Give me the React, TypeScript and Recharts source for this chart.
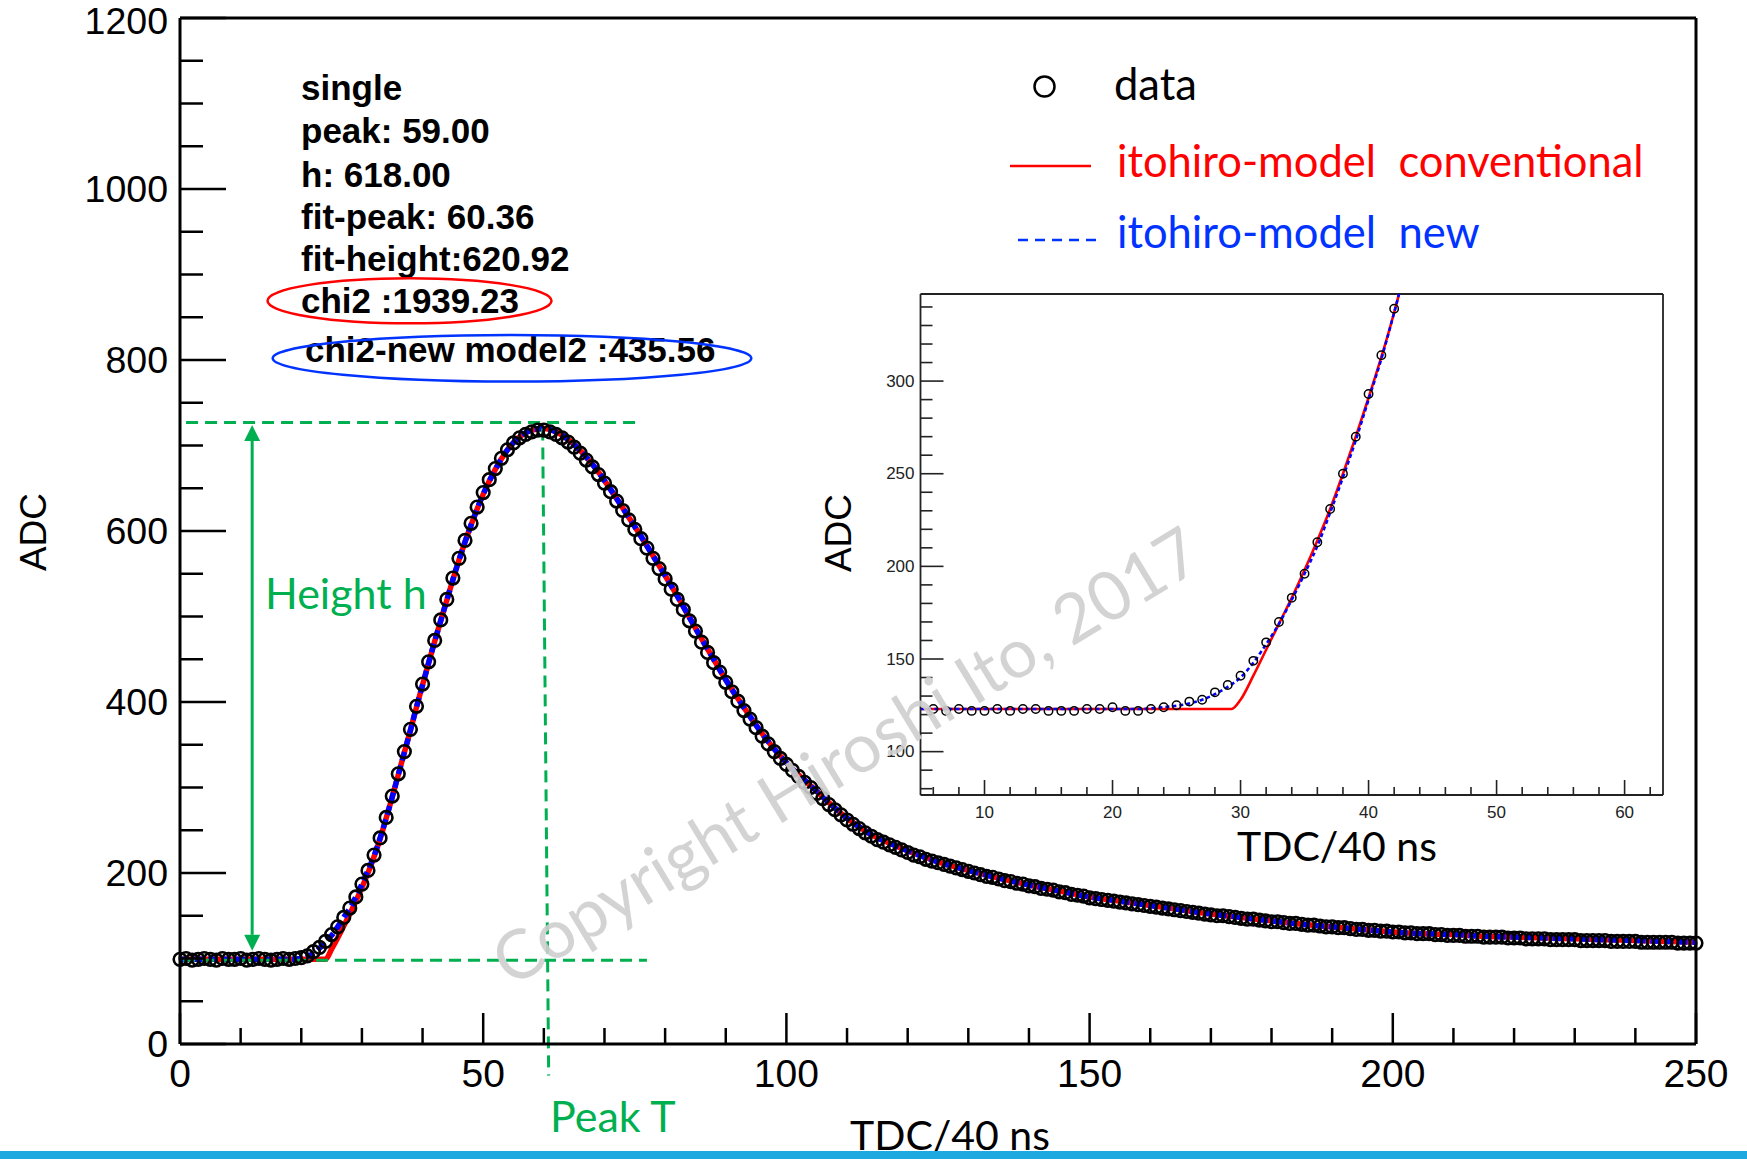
import React from 'react';
import { ComposedChart, Line, XAxis, YAxis, ReferenceLine } from 'recharts';

// ---------------- main plot data ----------------
const tdcBins: number[] = Array.from({ length: 251 }, (_, i) => i);
const adcData: number[] = [
  99, 100, 98, 99, 100, 99, 98, 100, 99, 99,
  100, 98, 99, 100, 99, 98, 99, 100, 99, 100,
  101, 103, 108, 113, 120, 128, 137, 148, 159, 172,
  187, 203, 221, 241, 265, 290, 316, 342, 368, 395,
  421, 447, 472, 496, 520, 545, 568, 589, 609, 628,
  645, 660, 673, 685, 695, 703, 709, 713, 716, 718,
  718, 716, 713, 709, 704, 698, 691, 683, 675, 666,
  656, 646, 635, 624, 613, 602, 591, 580, 568, 556,
  544, 532, 520, 508, 495, 483, 470, 458, 446, 435,
  423, 412, 401, 390, 380, 370, 360, 351, 342, 334,
  327, 320, 313, 306, 300, 293, 287, 280, 274, 268,
  262, 257, 252, 247, 243, 239, 236, 233, 230, 227,
  224, 221, 219, 216, 214, 212, 210, 208, 206, 204,
  202, 200, 198, 196, 195, 193, 191, 190, 188, 187,
  185, 184, 182, 181, 180, 178, 177, 175, 174, 173,
  171, 170, 169, 168, 167, 166, 165, 164, 163, 162,
  161, 160, 159, 158, 157, 156, 155, 154, 153, 152,
  151, 150, 150, 149, 148, 147, 146, 146, 145, 144,
  143, 143, 142, 141, 141, 140, 139, 139, 138, 137,
  137, 136, 136, 135, 134, 134, 133, 133, 132, 132,
  131, 131, 130, 130, 129, 129, 129, 128, 128, 127,
  127, 127, 126, 126, 126, 125, 125, 125, 125, 124,
  124, 124, 123, 123, 123, 123, 122, 122, 122, 122,
  122, 121, 121, 121, 121, 121, 120, 120, 120, 120,
  120, 119, 119, 119, 119, 119, 119, 118, 118, 118,
  118,
];

const convFitX: number[] = [0, 24, 25, 26, 27, 28, 29, 30, 31, 32, 33, 34, 35, 36, 37, 38, 39, 40, 42, 44, 46, 48, 50, 52, 54, 56, 58, 60, 62, 64, 66, 68, 70, 72, 74, 76, 78, 80, 82, 84, 86, 88, 90, 92, 94, 96, 98, 100, 102, 104, 106, 108, 110, 112, 114, 116, 118, 120, 125, 130, 135, 140, 145, 150, 155, 160, 165, 170, 175, 180, 185, 190, 195, 200, 205, 210, 215, 220, 225, 230, 235, 240, 245, 250];
const convFitY: number[] = [99, 99, 111, 124, 138, 152, 167, 183, 200, 219, 240, 264, 289, 315, 341, 367, 394, 420, 471, 519, 566, 607, 643, 672, 695, 710, 718, 720, 716, 707, 694, 678, 659, 638, 616, 594, 571, 548, 524, 499, 474, 450, 426, 404, 383, 363, 345, 329, 315, 302, 289, 276, 264, 254, 245, 238, 232, 226, 213, 203, 194, 186, 179, 172, 167, 162, 157, 152, 148, 144, 140, 137, 134, 131, 129, 128, 126, 125, 124, 123, 122, 121, 120, 119];

const newFitX: number[] = [0, 18, 20, 21, 22, 23, 24, 25, 26, 27, 28, 29, 30, 31, 32, 33, 34, 35, 36, 37, 38, 39, 40, 42, 44, 46, 48, 50, 52, 54, 56, 58, 60, 62, 64, 66, 68, 70, 72, 74, 76, 78, 80, 82, 84, 86, 88, 90, 92, 94, 96, 98, 100, 102, 104, 106, 108, 110, 112, 114, 116, 118, 120, 125, 130, 135, 140, 145, 150, 155, 160, 165, 170, 175, 180, 185, 190, 195, 200, 205, 210, 215, 220, 225, 230, 235, 240, 245, 250];
const newFitY: number[] = [99, 99, 100, 102, 106, 112, 119, 127, 137, 148, 159, 172, 187, 203, 220, 241, 264, 289, 315, 341, 367, 394, 420, 471, 519, 566, 607, 643, 672, 695, 710, 718, 720, 716, 707, 694, 678, 659, 638, 616, 594, 571, 548, 524, 499, 474, 450, 426, 404, 383, 363, 345, 329, 315, 302, 289, 276, 264, 254, 245, 238, 232, 226, 213, 203, 194, 186, 179, 172, 167, 162, 157, 152, 148, 144, 140, 137, 134, 131, 129, 128, 126, 125, 124, 123, 122, 121, 120, 119];

const mainXTicks: number[] = [0, 10, 20, 30, 40, 50, 60, 70, 80, 90, 100, 110, 120, 130, 140, 150, 160, 170, 180, 190, 200, 210, 220, 230, 240, 250];
const mainYTicks: number[] = [0, 50, 100, 150, 200, 250, 300, 350, 400, 450, 500, 550, 600, 650, 700, 750, 800, 850, 900, 950, 1000, 1050, 1100, 1150, 1200];

// ---------------- inset data ----------------
const insetTdc: number[] = [6, 7, 8, 9, 10, 11, 12, 13, 14, 15, 16, 17, 18, 19, 20, 21, 22, 23, 24, 25, 26, 27, 28, 29, 30, 31, 32, 33, 34, 35, 36, 37, 38, 39, 40, 41, 42];
const insetAdc: number[] = [123, 122, 123, 122, 122, 123, 122, 123, 123, 122, 122, 122, 123, 123, 124, 122, 122, 123, 124, 125, 127, 128, 132, 136, 141, 149, 159, 170, 183, 196, 213, 231, 250, 270, 293, 314, 339];
const insetConvX: number[] = [5, 29.3, 30, 31, 32, 33, 34, 35, 36, 37, 38, 39, 40, 41, 42, 43];
const insetConvY: number[] = [123, 123, 128, 141, 155, 169, 183, 198, 214, 231, 250, 270, 291, 313, 337, 364];
const insetNewX: number[] = [5, 20, 22, 24, 26, 27, 28, 29, 30, 31, 32, 33, 34, 35, 36, 37, 38, 39, 40, 41, 42, 43];
const insetNewY: number[] = [123, 123, 123, 124, 126, 128, 131, 135, 140, 148, 158, 169, 182, 196, 211, 229, 248, 268, 290, 312, 337, 364];
const insetXTicks: number[] = [6, 8, 10, 12, 14, 16, 18, 20, 22, 24, 26, 28, 30, 32, 34, 36, 38, 40, 42, 44, 46, 48, 50, 52, 54, 56, 58, 60, 62];
const insetYTicks: number[] = [80, 90, 100, 110, 120, 130, 140, 150, 160, 170, 180, 190, 200, 210, 220, 230, 240, 250, 260, 270, 280, 290, 300, 310, 320, 330, 340];

// annotation text
const statLines: string[] = ['single', 'peak: 59.00', 'h: 618.00', 'fit-peak: 60.36', 'fit-height:620.92', 'chi2 :1939.23'];
const statBaselines: number[] = [100, 143.3, 186.7, 229.3, 270.7, 313.3];
const statLast = 'chi2-new model2 :435.56';

const dataRows = adcData.map((v, i) => ({ x: tdcBins[i], y: v }));
const convRows = convFitX.map((x, i) => ({ x, y: convFitY[i] }));
const newRows = newFitX.map((x, i) => ({ x, y: newFitY[i] }));
const insetDataRows = insetAdc.map((v, i) => ({ x: insetTdc[i], y: v }));
const insetConvRows = insetConvX.map((x, i) => ({ x, y: insetConvY[i] }));
const insetNewRows = insetNewX.map((x, i) => ({ x, y: insetNewY[i] }));

const AX = '"Liberation Sans", Arial, Helvetica, sans-serif';
const CAL = 'Lato, Carlito, Calibri, sans-serif';
const GREEN = '#00B050';

function MainXTick(props: any) {
  const { x, y, payload } = props;
  const major = payload.value % 50 === 0;
  return (
    <g>
      <line x1={x} x2={x} y1={y} y2={y - (major ? 31 : 16)} stroke="#000" strokeWidth={2.5} />
      {major && (
        <text x={x} y={y + 29} textAnchor="middle" dominantBaseline="central" fontFamily={AX} fontSize={39} fill="#000">
          {payload.value}
        </text>
      )}
    </g>
  );
}

function MainYTick(props: any) {
  const { x, y, payload } = props;
  const major = payload.value % 200 === 0;
  const ly = payload.value === 1200 ? y + 3 : y;
  return (
    <g>
      <line x1={x} x2={x + (major ? 46 : 23)} y1={y} y2={y} stroke="#000" strokeWidth={2.5} />
      {major && (
        <text x={x - 12} y={ly} textAnchor="end" dominantBaseline="central" fontFamily={AX} fontSize={37.5} fill="#000">
          {payload.value}
        </text>
      )}
    </g>
  );
}

function InsetXTick(props: any) {
  const { x, y, payload } = props;
  const major = payload.value % 10 === 0;
  return (
    <g>
      <line x1={x} x2={x} y1={y} y2={y - (major ? 15 : 8)} stroke="#222" strokeWidth={1.6} />
      {major && (
        <text x={x} y={y + 17} textAnchor="middle" dominantBaseline="central" fontFamily={AX} fontSize={17} fill="#222">
          {payload.value}
        </text>
      )}
    </g>
  );
}

function InsetYTick(props: any) {
  const { x, y, payload } = props;
  const major = payload.value % 50 === 0;
  return (
    <g>
      <line x1={x} x2={x + (major ? 23 : 12)} y1={y} y2={y} stroke="#222" strokeWidth={1.6} />
      {major && (
        <text x={x - 6} y={y} textAnchor="end" dominantBaseline="central" fontFamily={AX} fontSize={17} fill="#222">
          {payload.value}
        </text>
      )}
    </g>
  );
}

function DoubleArrow(props: any) {
  const { x1, y1, x2, y2 } = props;
  const dx = x2 - x1;
  const dy = y2 - y1;
  const len = Math.sqrt(dx * dx + dy * dy) || 1;
  const ux = dx / len;
  const uy = dy / len;
  const nx = -uy;
  const ny = ux;
  const hl = 16;
  const hw = 8;
  const head = (px: number, py: number, sx: number, sy: number) =>
    `${px},${py} ${px - sx * hl + nx * hw},${py - sy * hl + ny * hw} ${px - sx * hl - nx * hw},${py - sy * hl - ny * hw}`;
  return (
    <g>
      <line x1={x1 + ux * hl} y1={y1 + uy * hl} x2={x2 - ux * hl} y2={y2 - uy * hl} stroke={GREEN} strokeWidth={3} />
      <polygon points={head(x2, y2, ux, uy)} fill={GREEN} />
      <polygon points={head(x1, y1, -ux, -uy)} fill={GREEN} />
    </g>
  );
}

export default function App() {
  return (
    <div style={{ position: 'absolute', left: 0, top: 0, width: 1747, height: 1159, background: '#fff', overflow: 'hidden' }}>
      {/* main chart */}
      <div style={{ position: 'absolute', left: 0, top: 0 }}>
        <ComposedChart width={1747} height={1159} margin={{ top: 18, right: 51, bottom: 0, left: 0 }}>
          <XAxis
            dataKey="x"
            type="number"
            domain={[0, 250]}
            ticks={mainXTicks}
            interval={0}
            height={115}
            tickSize={0}
            tickMargin={0}
            tickLine={false}
            tick={<MainXTick />}
            axisLine={{ stroke: '#000', strokeWidth: 3 }}
          />
          <YAxis
            type="number"
            domain={[0, 1200]}
            ticks={mainYTicks}
            interval={0}
            width={180}
            tickSize={0}
            tickMargin={0}
            tickLine={false}
            tick={<MainYTick />}
            axisLine={{ stroke: '#000', strokeWidth: 3 }}
          />
          <ReferenceLine y={1200} stroke="#000" strokeWidth={3} />
          <ReferenceLine x={250} stroke="#000" strokeWidth={3} />
          <Line
            data={dataRows}
            dataKey="y"
            type="linear"
            stroke="none"
            dot={{ r: 6.3, fill: 'none', stroke: '#000', strokeWidth: 2.6 }}
            isAnimationActive={false}
          />
          <Line data={convRows} dataKey="y" type="monotone" stroke="#FF0000" strokeWidth={5.5} dot={false} isAnimationActive={false} />
          <Line data={newRows} dataKey="y" type="monotone" stroke="#0000FF" strokeWidth={5.5} strokeDasharray="9 5" dot={false} isAnimationActive={false} />
          <ReferenceLine segment={[{ x: 1, y: 727 }, { x: 76, y: 727 }]} stroke={GREEN} strokeWidth={3} strokeDasharray="12 7" ifOverflow="visible" />
          <ReferenceLine segment={[{ x: 0.5, y: 98 }, { x: 77, y: 98 }]} stroke={GREEN} strokeWidth={3} strokeDasharray="12 7" ifOverflow="visible" />
          <ReferenceLine segment={[{ x: 59.8, y: 720 }, { x: 60.8, y: -37 }]} stroke={GREEN} strokeWidth={3} strokeDasharray="12 7" ifOverflow="visible" />
          <ReferenceLine segment={[{ x: 11.9, y: 724 }, { x: 11.9, y: 109 }]} shape={<DoubleArrow />} ifOverflow="visible" />
        </ComposedChart>
      </div>

      {/* inset chart */}
      <div style={{ position: 'absolute', left: 800, top: 280 }}>
        <ComposedChart width={880} height={600} margin={{ top: 14, right: 17, bottom: 0, left: 0 }}>
          <XAxis
            dataKey="x"
            type="number"
            domain={[5, 63]}
            allowDataOverflow
            ticks={insetXTicks}
            interval={0}
            height={85}
            tickSize={0}
            tickMargin={0}
            tickLine={false}
            tick={<InsetXTick />}
            axisLine={{ stroke: '#222', strokeWidth: 1.8 }}
          />
          <YAxis
            type="number"
            domain={[76.6, 347]}
            allowDataOverflow
            ticks={insetYTicks}
            interval={0}
            width={120.5}
            tickSize={0}
            tickMargin={0}
            tickLine={false}
            tick={<InsetYTick />}
            axisLine={{ stroke: '#222', strokeWidth: 1.8 }}
          />
          <ReferenceLine y={347} stroke="#222" strokeWidth={1.8} />
          <ReferenceLine x={63} stroke="#222" strokeWidth={1.8} />
          <Line
            data={insetDataRows}
            dataKey="y"
            type="linear"
            stroke="none"
            dot={{ r: 4.2, fill: 'none', stroke: '#000', strokeWidth: 1.5 }}
            isAnimationActive={false}
          />
          <Line data={insetConvRows} dataKey="y" type="monotone" stroke="#FF0000" strokeWidth={2.6} dot={false} isAnimationActive={false} />
          <Line data={insetNewRows} dataKey="y" type="monotone" stroke="#0000FF" strokeWidth={2.6} strokeDasharray="4 3" dot={false} isAnimationActive={false} />
        </ComposedChart>
      </div>

      {/* text overlay */}
      <svg width={1747} height={1159} style={{ position: 'absolute', left: 0, top: 0, pointerEvents: 'none' }}>
        {/* axis titles */}
        <text x={0} y={0} transform="translate(46,532) rotate(-90)" textAnchor="middle" fontFamily={AX} fontSize={37} fill="#000">ADC</text>
        <text x={950} y={1150} textAnchor="middle" fontFamily={CAL} fontSize={41} fill="#000">TDC/40 ns</text>
        <text x={0} y={0} transform="translate(851,533) rotate(-90)" textAnchor="middle" fontFamily={AX} fontSize={37} fill="#000">ADC</text>
        <text x={1337} y={861} textAnchor="middle" fontFamily={CAL} fontSize={41} fill="#000">TDC/40 ns</text>

        {/* stats block */}
        {statLines.map((s, i) => (
          <text key={s} x={301} y={statBaselines[i]} fontFamily={AX} fontWeight="bold" fontSize={35} fill="#000">
            {s}
          </text>
        ))}
        <text x={305} y={361.7} fontFamily={AX} fontWeight="bold" fontSize={35} fill="#000">{statLast}</text>
        <ellipse cx={409.5} cy={300.8} rx={142} ry={22.5} fill="none" stroke="#FF0000" strokeWidth={2.5} />
        <ellipse cx={512} cy={358.3} rx={239.3} ry={23.3} fill="none" stroke="#0033FF" strokeWidth={2.5} />

        {/* legend */}
        <circle cx={1044.5} cy={86.5} r={10} fill="none" stroke="#000" strokeWidth={2.5} />
        <text x={1114} y={100} fontFamily={CAL} fontSize={43.5} fill="#000">data</text>
        <line x1={1010} x2={1091} y1={166} y2={166} stroke="#FF0000" strokeWidth={2.5} />
        <text x={1117} y={177} fontFamily={CAL} fontSize={43.5} fill="#FF0000" style={{ whiteSpace: 'pre' }}>itohiro-model  conventional</text>
        <line x1={1018} x2={1100} y1={240} y2={240} stroke="#0033FF" strokeWidth={2.5} strokeDasharray="10 7" />
        <text x={1117} y={248} fontFamily={CAL} fontSize={43.5} fill="#0033FF" style={{ whiteSpace: 'pre' }}>itohiro-model  new</text>

        {/* green annotations */}
        <text x={265} y={608.6} fontFamily={CAL} fontSize={43} fill={GREEN}>Height h</text>
        <text x={550} y={1132} fontFamily={CAL} fontSize={43} fill={GREEN}>Peak T</text>

        {/* watermark */}
        <text x={0} y={0} transform="translate(511,988) rotate(-31.3)" fontFamily={CAL} fontSize={68} fill="#CFCFCF" opacity={0.9}>
          Copyright Hiroshi Ito, 2017
        </text>
      </svg>

      {/* slide bar */}
      <div style={{ position: 'absolute', left: 0, top: 1151, width: 1747, height: 8, background: '#1FA9E1' }} />
    </div>
  );
}
